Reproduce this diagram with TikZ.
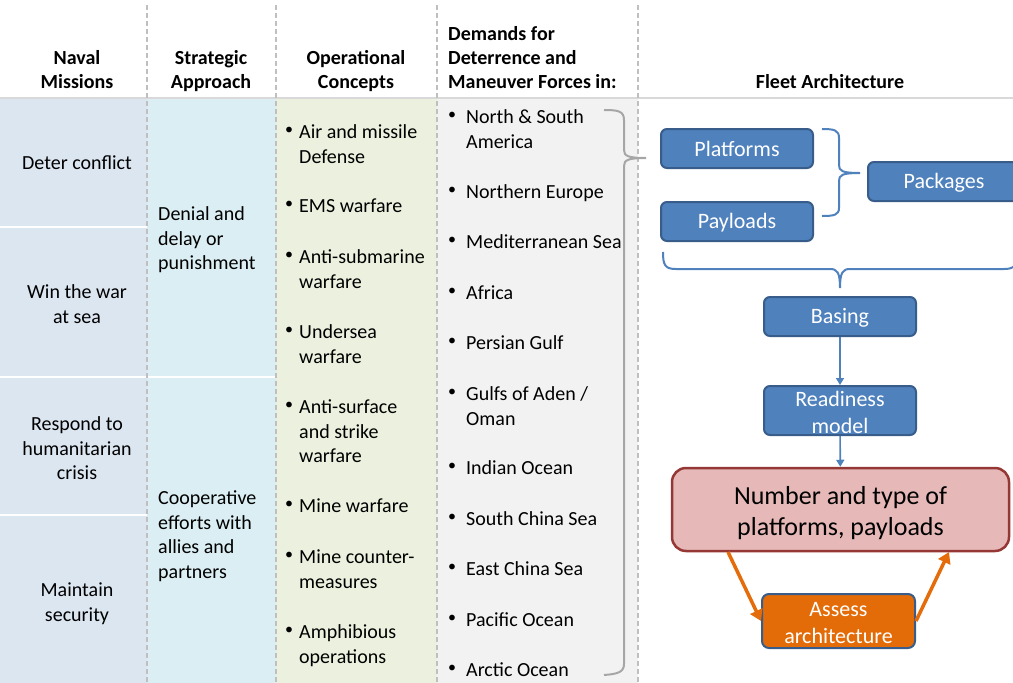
\documentclass[tikz,border=0pt]{standalone}
\usepackage{fontspec}
\setmainfont{Carlito}
\usetikzlibrary{arrows.meta,calc}
\definecolor{cola}{HTML}{DCE6F1}
\definecolor{colb}{HTML}{DAEEF3}
\definecolor{colc}{HTML}{EBF1DE}
\definecolor{cold}{HTML}{F2F2F2}
\definecolor{divgray}{HTML}{BFBFBF}
\definecolor{hdrline}{HTML}{D9D9D9}
\definecolor{bluefill}{HTML}{4F81BD}
\definecolor{blueedge}{HTML}{385D8A}
\definecolor{pinkfill}{HTML}{E6B9B8}
\definecolor{rededge}{HTML}{953735}
\definecolor{orangefill}{HTML}{E36C09}
\definecolor{orangeline}{HTML}{E46C0A}
\definecolor{bracegray}{HTML}{A6A6A6}
\tikzset{
  hdr/.style={anchor=north, inner sep=0pt, align=center, font=\fontsize{20}{24}\selectfont\bfseries},
  hdrl/.style={hdr, anchor=north west, align=left},
  celltext/.style={anchor=north, inner sep=0pt, align=center, font=\fontsize{20}{24.5}\selectfont},
  celltextl/.style={celltext, anchor=north west, align=left},
  bul/.style={inner sep=0pt, anchor=center, font=\fontsize{16}{16}\selectfont},
  divider/.style={draw=divgray, line width=1.3pt, dash pattern=on 5pt off 3pt},
  sepline/.style={draw=white, line width=2.5pt},
  bluebox/.style={draw=blueedge, fill=bluefill, line width=2pt, rounded corners=6pt, text=white,
    font=\fontsize{22}{27}\selectfont, align=center, inner sep=0pt, minimum width=152pt, minimum height=39pt},
  numbox/.style={draw=rededge, fill=pinkfill, line width=2.5pt, rounded corners=14pt, text=black,
    font=\fontsize{26}{31}\selectfont, align=center, inner sep=0pt, minimum width=337pt, minimum height=83pt},
  assessbox/.style={draw=blueedge, fill=orangefill, line width=2pt, rounded corners=7pt, text=white,
    font=\fontsize{22}{27}\selectfont, align=center, inner sep=0pt, minimum width=153pt, minimum height=54pt},
  bluearrow/.style={draw=bluefill, line width=1.6pt, -{Triangle[width=8pt,length=7pt]}},
  orangearrow/.style={draw=orangeline, line width=3.5pt, -{Triangle[width=13pt,length=11pt]}},
  bluebrace/.style={draw=bluefill, line width=2pt},
  graybrace/.style={draw=bracegray, line width=2pt},
}
\begin{document}
\begin{tikzpicture}[x=1pt,y=-1pt]
\useasboundingbox (0,0) rectangle (1013,683);
\clip (0,0) rectangle (1013,683);
% column backgrounds
\fill[cola] (0,99) rectangle (147,683);
\fill[colb] (147,99) rectangle (276,683);
\fill[colc] (276,99) rectangle (437,683);
\fill[cold] (437,99) rectangle (638,683);
% white separators
\draw[sepline] (0,227) -- (147,227);
\draw[sepline] (0,377) -- (276,377);
\draw[sepline] (0,515) -- (147,515);
% header line
\draw[hdrline, line width=2pt] (0,98) -- (1013,98);
% dividers
\foreach \xx in {147,276,437,638} \draw[divider] (\xx,5) -- (\xx,683);

% headers
\node[hdr] (h1) at (77,47) {\strut Naval\\Missions};
\node[hdr] (h2) at (211,47) {\strut Strategic\\Approach};
\node[hdr] (h3) at (356,47) {\strut Operational\\Concepts};
\node[hdrl] (h4) at (448,23) {\strut Demands for\\Deterrence and\\Maneuver Forces in:};
\node[hdr] (h5) at (830,71) {\strut Fleet Architecture};

% column 1
\node[celltext] (m1) at (77,152.5) {\strut Deter conflict};
\node[celltext] (m2) at (77,281.5) {\strut Win the war\\at sea};
\node[celltext] (m3) at (77,413.5) {\strut Respond to\\humanitarian\\crisis};
\node[celltext] (m4) at (77,579.5) {\strut Maintain\\security};

% column 2
\node[celltextl] (s1) at (158,203.5) {\strut Denial and\\delay or\\punishment};
\node[celltextl] (s2) at (158,487.5) {\strut Cooperative\\efforts with\\allies and\\partners};

% column 3
\foreach \yy/\tt/\nn in {
  131/{Air and missile\\Defense}/oa,
  205/{EMS warfare}/ob,
  256/{Anti-submarine\\warfare}/oc,
  331/{Undersea\\warfare}/od,
  406/{Anti-surface\\and strike\\warfare}/oe,
  505/{Mine warfare}/of,
  556/{Mine counter-\\measures}/og,
  631/{Amphibious\\operations}/oh}{
  \node[celltextl] (\nn) at (299,\yy-9.5) {\strut\tt};
  \node[bul] (b\nn) at ($(\nn.north west)+(-10,9.15)$) {•};
}

% column 4
\foreach \yy/\tt/\nn in {
  116/{North \& South\\America}/da,
  191/{Northern Europe}/db,
  241/{Mediterranean Sea}/dc,
  292/{Africa}/dd,
  342/{Persian Gulf}/de,
  393/{Gulfs of Aden /\\Oman}/df,
  467/{Indian Ocean}/dg,
  518/{South China Sea}/dh,
  568/{East China Sea}/di,
  619/{Pacific Ocean}/dj,
  669/{Arctic Ocean}/dk}{
  \node[celltextl] (\nn) at (466,\yy-9.5) {\strut\tt};
  \node[bul] (b\nn) at ($(\nn.north west)+(-14,9.15)$) {•};
}

% gray brace in column 4
\draw[graybrace] (604,110) .. controls (618,110) and (624,111) .. (624,120)
  -- (624,150) .. controls (624,156) and (628,158) .. (646,158)
  (646,158) .. controls (628,158) and (624,160) .. (624,166)
  -- (624,664) .. controls (624,672) and (618,674) .. (604,675);

% fleet architecture boxes
\node[bluebox] (plat) at (737,148.5) {\rule{0pt}{17pt}Platforms};
\node[bluebox] (pay) at (737,221.5) {\rule{0pt}{17pt}Payloads};
\node[bluebox] (pack) at (944,181.5) {\rule{0pt}{18pt}Packages};
\node[bluebox] (bas) at (840,316.5) {\rule{0pt}{18pt}Basing};
\node[bluebox, minimum height=49pt] (ready) at (840,410.5) {\rule{0pt}{19pt}Readiness\\model};
\node[numbox] (num) at (840.5,509.5) {\rule{0pt}{25pt}Number and type of\\platforms, payloads};
\node[assessbox] (as) at (838.5,621) {\rule{0pt}{19pt}Assess\\architecture};

% blue braces
\draw[bluebrace] (822,129) .. controls (834,129) and (839,130) .. (839,138)
  -- (839,165) .. controls (839,171) and (842,173) .. (860,173)
  (860,173) .. controls (842,173) and (839,175) .. (839,181)
  -- (839,208) .. controls (839,215) and (834,216) .. (822,216);
\draw[bluebrace] (663,252) .. controls (663,265) and (665,269) .. (676,269)
  -- (830,269) .. controls (837,269) and (840,272) .. (840,288)
  (840,288) .. controls (840,272) and (843,269) .. (850,269)
  -- (1004,269) .. controls (1015,269) and (1017,265) .. (1017,252);

% arrows
\draw[bluearrow] (bas) -- (ready);
\draw[bluearrow] (ready) -- (num);
\coordinate (oa1) at (728,552);
\coordinate (oa2) at (949,552);
\draw[orangearrow] (oa1) -- (as.west);
\draw[orangearrow] (as.east) -- (oa2);
\end{tikzpicture}
\end{document}
